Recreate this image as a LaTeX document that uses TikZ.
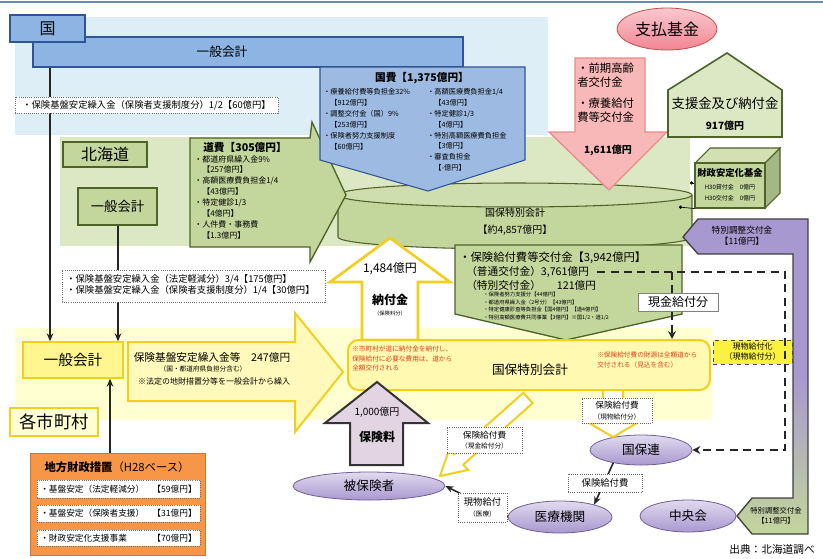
\documentclass[tikz,border=0pt]{standalone}
\usepackage{fontspec}
\setmainfont{Noto Sans CJK JP}
\usetikzlibrary{arrows.meta,calc,shapes.geometric}
\pgfdeclarelayer{bg}
\pgfdeclarelayer{mid}
\pgfsetlayers{bg,mid,main}
\definecolor{kblue}{HTML}{8EB4E3}
\definecolor{kbluebd}{HTML}{2F5597}
\definecolor{kbg}{HTML}{DDEEF6}
\definecolor{kfee}{HTML}{9DBBE2}
\definecolor{gbg}{HTML}{DCE8C4}
\definecolor{gbox}{HTML}{C3D69B}
\definecolor{gbd}{HTML}{4F6228}
\definecolor{ybg}{HTML}{FFFFD2}
\definecolor{ybox}{HTML}{FFF68F}
\definecolor{ybd}{HTML}{F2CF1F}
\definecolor{yel2}{HTML}{FAF23C}
\definecolor{pinkfill}{HTML}{F8B8B8}
\definecolor{pinkbd}{HTML}{E88A8A}
\definecolor{shiharai}{HTML}{F28594}
\definecolor{shiharaibd}{HTML}{C0504D}
\definecolor{purp}{HTML}{A898D0}
\definecolor{purpbd}{HTML}{6F5F99}
\definecolor{mauve}{HTML}{E2D4E2}
\definecolor{orng}{HTML}{F79646}
\definecolor{redtxt}{HTML}{E0401C}
\newcommand\bx[7]{\node[#6,minimum width={(#4-#2)*0.75pt},minimum height={(#5-#3)*0.75pt},inner sep=0pt] (#1) at ({(#2+#4)/2},{(#3+#5)/2}) {#7};}
\tikzset{
 fs/.style 2 args={font=\fontsize{#1}{#2}\selectfont},
 dotbox/.style={draw=black!55, densely dotted, fill=white, line width=0.6pt},
 ell/.style={ellipse, draw=purpbd, top color=purp!35!white, bottom color=purp, line width=0.6pt},
 lbox/.style={draw=black!60, densely dotted, fill=white, line width=0.6pt},
 conn/.style={line width=1.2pt, black!85, -{Stealth[length=6pt,width=5pt]}},
 dashline/.style={line width=1.6pt, black!85, dash pattern=on 6pt off 4pt},
}
\begin{document}
\begin{tikzpicture}[x=0.75pt,y=-0.75pt,every node/.style={inner sep=0pt,align=center,text=black}]
\useasboundingbox (0,0) rectangle (823,558);
\begin{pgfonlayer}{bg}
\fill[white] (0,0) rectangle (823,558);
\draw[kbluebd!70, line width=1.2pt] (0,2) -- (823,2);
\fill[kbg] (15,17) rectangle (548,135);
\fill[gbg] (60,137) rectangle (690,246);
\fill[ybg] (15,328) rectangle (712,420);
\end{pgfonlayer}

% ===== national level =====
\bx{kbar}{33}{37}{463}{67}{draw=kbluebd,fill=kblue,line width=0.8pt}{}
\node[fs={9.5}{11}] (kbarlbl) at (222,52) {一般会計};
\bx{kuni}{10}{15}{85}{42}{draw=kbluebd,fill=kblue,line width=0.8pt,fs={12}{13}}{国}
\bx{knote}{15}{97}{278}{113}{dotbox,fs={7}{8}}{・保険基盤安定繰入金（保険者支援制度分）1/2【60億円】}

% ===== Hokkaido level =====
\bx{hkbox}{63}{142}{147}{167}{draw=gbd,fill=gbox,line width=1.2pt,fs={12}{13}}{北海道}
\bx{hgen}{78}{188}{157}{225}{draw=gbd,fill=gbox,line width=1.2pt,fs={10}{11}}{一般会計}
\bx{hnote}{62}{270}{325}{302}{dotbox}{}
\node[fs={7}{8.3},anchor=north west,align=left] (hnotet) at (66,274) {・保険基盤安定繰入金（法定軽減分）3/4【175億円】\\・保険基盤安定繰入金（保険者支援制度分）1/4【30億円】};

% cylinder (prefecture special account)
\fill[gbox] (338,195) rectangle (692,237);
\fill[gbox] (515,237) ellipse [x radius=177, y radius=12];
\draw[gbd, line width=0.8pt] (338,195) -- (338,237) arc[start angle=180, end angle=0, x radius=177, y radius=12] -- (692,195);
\draw[gbd, fill=gbox!80!white, line width=0.8pt] (515,195) ellipse [x radius=177, y radius=12];
\node[fs={7.5}{12.5}] (hktoku) at (515,222) {国保特別会計\\【約4,857億円】};

% 道費 arrow
\draw[draw=gbd, fill=gbox, line width=1pt] (190,138) -- (310,138) -- (312,122) -- (346,195) -- (310,262) -- (310,247) -- (190,247) -- cycle;
\node[fs={8}{9}] (dtitle) at (245,147) {\bfseries 道費【305億円】};
\node[fs={6}{8.2},anchor=north west,align=left] (dcol) at (194,155) {・都道府県繰入金9\%\\\hspace*{1em}【257億円】\\・高額医療費負担金1/4\\\hspace*{1em}【43億円】\\・特定健診1/3\\\hspace*{1em}【4億円】\\・人件費・事務費\\\hspace*{1em}【1.3億円】};

% 国費 pentagon
\draw[draw=kbluebd, fill=kfee, line width=0.8pt] (320,67) -- (525,67) -- (525,160) -- (428,191) -- (320,160) -- cycle;
\node[fs={8}{9}] (kfeet) at (422,78) {\bfseries 国費【1,375億円】};
\node[fs={5.4}{8.2},anchor=north west,align=left] (kfl) at (323,88) {・療養給付費等負担金32\%\\\hspace*{1em}【912億円】\\・調整交付金（国）9\%\\\hspace*{1em}【253億円】\\・保険者努力支援制度\\\hspace*{1em}【60億円】};
\node[fs={5.4}{8.2},anchor=north west,align=left] (kfr) at (427,88) {・高額医療費負担金1/4\\\hspace*{1em}【43億円】\\・特定健診1/3\\\hspace*{1em}【4億円】\\・特別高額医療費負担金\\\hspace*{1em}【3億円】\\・審査負担金\\\hspace*{1em}【-億円】};

% 支払基金
\node[ellipse, draw=shiharaibd, top color=shiharai!45!white, bottom color=shiharai, line width=0.6pt, minimum width=100*0.75pt, minimum height=42*0.75pt, fs={12}{13}] (shiharai) at (667,29) {支払基金};
\draw[draw=pinkbd, fill=pinkfill, line width=1pt] (575,58) -- (645,58) -- (645,132) -- (667,132) -- (609,190) -- (549,132) -- (575,132) -- cycle;
\node[fs={8.5}{10.5},anchor=north west,align=left] (pinkt) at (577,63) {・前期高齢\\者交付金\\[5pt]・療養給付\\費等交付金};
\node[fs={7.5}{8.5}] (pinkv) at (608,150) {\bfseries 1,611億円};

% house
\draw[gbd, fill=gbg, line width=1.2pt] (668,137) -- (668,90) -- (727,53) -- (782,90) -- (782,137) -- cycle;
\node[fs={10}{11}] (house) at (725,103) {支援金及び納付金};
\node[fs={7.5}{8.5}] (house2) at (725,126) {\bfseries 917億円};

% fund box
\draw[gbd, fill=gbox!75!white, line width=0.8pt] (695,163) -- (710,148) -- (780,148) -- (765,163) -- cycle;
\draw[gbd, fill=gbox!85!black, line width=0.8pt] (765,163) -- (780,148) -- (780,193) -- (765,208) -- cycle;
\bx{fund}{695}{163}{765}{208}{draw=gbd,fill=gbox,line width=0.8pt}{}
\node[fs={7}{8}] (fundt) at (730,173) {\bfseries 財政安定化基金};
\node[fs={4.5}{8.5}] (fundv) at (730,193) {H30貸付金\quad 0億円\\H30交付金\quad 0億円};
\coordinate (fd1) at (690,183);
\coordinate (fd2) at (679,207);
\draw[line width=0.5pt, {Circle[length=2.4pt]}-] (fd1) -- (fund.west |- fd1);
\draw[line width=0.5pt, {Circle[length=2.4pt]}-] (fd2) -- (fund.south west);

% purple/green L arrow
\shadedraw[top color=purp, bottom color=gbox, middle color=purp, draw=black!75, line width=1pt] (683,237) -- (698,219) -- (808,219) -- (808,534) -- (752,534) -- (737,516) -- (752,498) -- (793,498) -- (793,254) -- (698,254) -- cycle;
\node[fs={6.5}{8.5}] (sptop) at (742,236) {特別調整交付金\\【11億円】};
\node[fs={5.5}{7.5}] (spbot) at (776,516) {特別調整交付金\\【11億円】};

% 1,484 arrow
\draw[draw=ybd, fill=white, line width=2pt] (390,238) -- (450,282) -- (418,282) -- (418,340) -- (362,340) -- (362,282) -- (330,282) -- cycle;
\node[fs={9}{10}] (nofu1) at (390,269) {1,484億円};
\node[fs={9}{10}] (nofu2) at (390,300) {\bfseries 納付金};
\node[fs={4}{5}] (nofu3) at (390,313) {（保険料分）};

% 保険給付費等交付金 pentagon
\draw[draw=gbd, fill=gbox, line width=1pt] (455,245) -- (682,245) -- (682,314) -- (566,340) -- (455,314) -- cycle;
\node[fs={8.5}{9.5},anchor=west] (kyufu) at (459,258) {・保険給付費等交付金【3,942億円】};
\node[fs={8}{9},anchor=west] (futsu) at (466,272) {（普通交付金）3,761億円};
\node[fs={8}{9},anchor=west] (tokub) at (466,285) {（特別交付金）\hspace{1.5em}121億円};
\node[fs={4}{5.6},anchor=north west,align=left] (kyufud) at (483,292) {・保険者努力支援分【44億円】\\・都道府県繰入金（2号分）【43億円】\\・特定健康診査等負担金【国4億円】【道4億円】\\・特別高額医療費共同事業【3億円】※国1/2・道1/2};

% ===== municipal level =====
\bx{mgen}{23}{342}{123}{378}{draw=ybd,fill=ybox,line width=1pt,fs={11}{12}}{一般会計}
\bx{mcity}{10}{408}{98}{436}{draw=ybd,fill=ybg,line width=0.8pt,fs={13}{14}}{各市町村}
\draw[draw=ybd, fill=ybox!60!white, line width=1.5pt] (128,342) -- (295,342) -- (295,313) -- (343,372) -- (295,432) -- (295,401) -- (128,401) -- cycle;
\node[fs={8}{9}] (mbig1) at (212,357) {保険基盤安定繰入金等\quad 247億円};
\node[fs={5}{6}] (mbig2) at (203,369) {（国・都道府県負担分含む）};
\node[fs={6}{7}] (mbig3) at (214,381) {※法定の地財措置分等を一般会計から繰入};

\bx{mtoku}{348}{340}{710}{390}{draw=ybd,fill=ybox!70!white,line width=1.5pt,rounded corners=8pt}{}
\node[fs={9.5}{10.5}] (mtokut) at (530,370) {国保特別会計};
\node[fs={5}{7},anchor=north west,align=left,text=redtxt] (mred1) at (352,346) {※市町村が道に納付金を納付し、\\保険給付に必要な費用は、道から\\全額交付される};
\node[fs={5}{7},anchor=north west,align=left,text=redtxt] (mred2) at (597,352) {※保険給付費の財源は全額道から\\交付される（見込を含む）};

\bx{genbutsu}{713}{340}{792}{364}{draw=black!70,dashed,fill=yel2,fs={6}{7.5}}{現物給付化\\（現物給付分）}

% 保険料 arrow
\draw[draw=black!80, fill=mauve, line width=1.5pt] (377,382) -- (428,423) -- (403,423) -- (403,465) -- (350,465) -- (350,423) -- (325,423) -- cycle;
\node[fs={7.5}{8.5}] (hoken1) at (377,412) {1,000億円};
\node[fs={9}{10}] (hoken2) at (377,437) {\bfseries 保険料};

% ellipses
\node[ell, minimum width=152*0.75pt, minimum height=28*0.75pt, fs={9.5}{10}] (hiho) at (369,486) {被保険者};
\node[ell, minimum width=102*0.75pt, minimum height=30*0.75pt, fs={9.5}{10}] (kokuhoren) at (641,450) {国保連};
\node[ell, minimum width=104*0.75pt, minimum height=32*0.75pt, fs={9.5}{10}] (iryo) at (560,517) {医療機関};
\node[ell, minimum width=96*0.75pt, minimum height=32*0.75pt, fs={9.5}{10}] (chuo) at (688,516) {中央会};

% hollow yellow arrows
\draw[draw=ybd, fill=white, line width=1.5pt] (440,476) -- (449.4,448.9) -- (454.1,454.2) -- (523.4,392.8) -- (532.6,403.2) -- (463.3,464.6) -- (468.0,469.9) -- cycle;
\bx{genkinlbl}{447}{427}{522}{453}{lbox,fs={6.5}{8}}{保険給付費\\{\fontsize{5}{6}\selectfont（現金給付分）}}
\draw[draw=ybd, fill=white, line width=1.5pt] (603,390) -- (623,390) -- (623,423) -- (637,423) -- (613,437) -- (589,423) -- (603,423) -- cycle;
\bx{genbutsulbl}{582}{398}{652}{423}{lbox,fs={6.5}{8}}{保険給付費\\{\fontsize{5}{6}\selectfont（現物給付分）}}

% connectors between ellipses
\draw[conn] (kokuhoren.205) -- (iryo.20);
\bx{kyufulbl}{568}{474}{642}{492}{lbox,fs={7}{8}}{保険給付費}
\draw[conn] (iryo.west) -- (hiho.east);
\bx{genbutsuiryo}{458}{493}{507}{522}{lbox,fs={7}{8}}{現物給付\\{\fontsize{5}{6}\selectfont（医療）}}

% dashed lines
\coordinate (xR) at (785,0);
\coordinate (xG) at (672,0);
\draw[dashline, -{Stealth[length=6pt,width=6pt]}] ([xshift=6pt]futsu.east) -- (futsu.east -| xR) -- (kokuhoren.east -| xR) -- (kokuhoren.east);
\draw[dashline, -{Stealth[length=6pt,width=6pt]}] (futsu.east -| xG) -- (mtoku.north -| xG);
\bx{genkin}{638}{293}{718}{311}{draw=black!50,fill=white,fs={9}{10}}{現金給付分}

% 地方財政措置
\bx{chiho}{30}{453}{205}{555}{fill=orng,draw=orng!80!black,line width=0.5pt}{}
\node[fs={8.5}{9.5}] (chihot) at (117,467) {\bfseries 地方財政措置\mdseries （H28ベース）};
\bx{c1}{37}{480}{200}{498}{dotbox}{}
\bx{c2}{37}{505}{200}{522}{dotbox}{}
\bx{c3}{37}{530}{200}{546}{dotbox}{}
\node[fs={6.5}{7.5},anchor=west] (c1a) at (40,489) {・基盤安定（法定軽減分）};
\node[fs={6.5}{7.5},anchor=east] (c1b) at (197,489) {【59億円】};
\node[fs={6.5}{7.5},anchor=west] (c2a) at (40,513.5) {・基盤安定（保険者支援）};
\node[fs={6.5}{7.5},anchor=east] (c2b) at (197,513.5) {【31億円】};
\node[fs={6.5}{7.5},anchor=west] (c3a) at (40,538) {・財政安定化支援事業};
\node[fs={6.5}{7.5},anchor=east] (c3b) at (197,538) {【70億円】};

\node[fs={8}{9},anchor=east] (src) at (815,549) {出典：北海道調べ};

% vertical connectors (under boxes)
\coordinate (xA) at (50,0);
\coordinate (xB) at (118,0);
\coordinate (xC) at (110,0);
\begin{pgfonlayer}{mid}
\draw[conn] (kbar.south -| xA) -- (mgen.north -| xA);
\draw[conn] (hgen.south -| xB) -- (mgen.north -| xB);
\draw[conn] (chiho.north -| xC) -- (mgen.south -| xC);
\end{pgfonlayer}
\end{tikzpicture}
\end{document}
